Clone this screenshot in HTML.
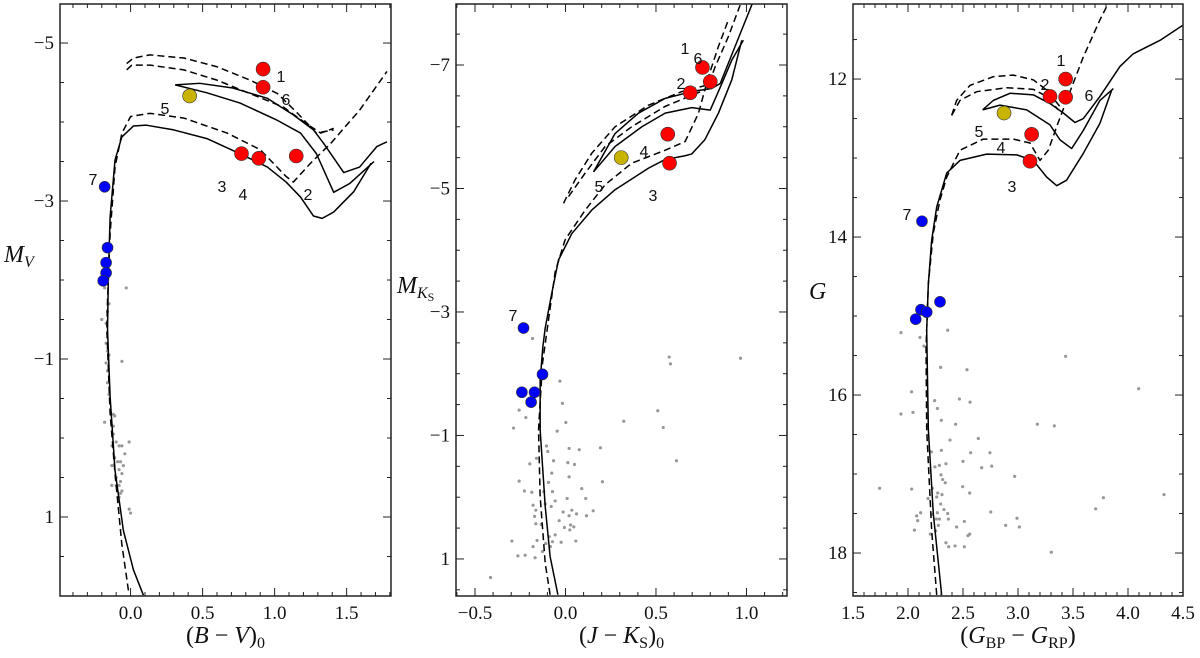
<!DOCTYPE html>
<html><head><meta charset="utf-8">
<style>
html,body{margin:0;padding:0;background:#fff;}
svg{display:block;}
.tick{font-family:"Liberation Serif",serif;font-size:19px;fill:#111;}
.ttl{font-family:"Liberation Serif",serif;font-size:24px;fill:#111;}
.ann{font-family:"Liberation Sans",sans-serif;font-size:16px;fill:#111;}
</style></head>
<body>
<svg id="fig" width="1200" height="658" viewBox="0 0 1200 658" xmlns="http://www.w3.org/2000/svg"></svg>
<script>
// ---------- Panel 1: (B-V)0 vs M_V ----------
const p1Red = [[0.92,-4.67],[0.92,-4.44],[0.77,-3.60],[0.89,-3.54],[1.15,-3.57]];
const p1Yellow = [[0.41,-4.33]];
const p1Blue = [[-0.18,-3.18],[-0.16,-2.41],[-0.17,-2.22],[-0.17,-2.09],[-0.19,-1.99]];
const p1Gray = [[-0.18,-1.9],[-0.15,-1.7],[-0.16,-1.6],[-0.2,-1.5],[-0.17,-1.45],[-0.03,-1.9],[-0.17,-1.2],[-0.16,-1.1],[-0.15,-1.05],[-0.06,-0.97],[-0.17,-0.95],[-0.16,-0.85],[-0.16,-0.7],[-0.15,-0.55],[-0.12,-0.3],[-0.11,-0.28],[-0.18,-0.2],[-0.12,-0.15],[-0.12,-0.05],[-0.1,0.05],[-0.13,0.1],[-0.08,0.1],[-0.06,0.1],[-0.01,0.05],[-0.04,0.2],[-0.11,0.25],[-0.09,0.3],[-0.07,0.3],[-0.05,0.35],[-0.13,0.35],[-0.08,0.4],[-0.06,0.45],[-0.1,0.5],[-0.07,0.55],[-0.13,0.6],[-0.1,0.6],[-0.08,0.6],[-0.07,0.7],[-0.08,0.75],[-0.06,0.67],[-0.01,0.9],[0.0,0.95]];
const p1SolidA = [[0.089,1.99],[0.02,1.67],[-0.05,1.17],[-0.108,0.41],[-0.142,-0.52],[-0.16,-1.37],[-0.154,-2.08],[-0.142,-2.80],[-0.108,-3.52],[-0.061,-3.81],[0.02,-3.95],[0.11,-3.96],[0.30,-3.90],[0.53,-3.79],[0.77,-3.59],[0.95,-3.43],[1.08,-3.24],[1.18,-3.05],[1.27,-2.81],[1.33,-2.78],[1.41,-2.86],[1.55,-3.12],[1.67,-3.48]];
const p1SolidB = [[0.31,-4.47],[0.53,-4.37],[0.76,-4.24],[1.01,-4.03],[1.18,-3.86],[1.29,-3.60],[1.41,-3.11],[1.52,-3.22],[1.69,-3.50]];
const p1SolidC = [[0.31,-4.47],[0.48,-4.49],[0.71,-4.43],[0.95,-4.30],[1.13,-4.09],[1.27,-3.90],[1.34,-3.73],[1.48,-3.36],[1.59,-3.43],[1.71,-3.69],[1.78,-3.75]];
const p1DashA = [[-0.015,1.93],[-0.061,1.34],[-0.108,0.45],[-0.142,-0.31],[-0.165,-1.37],[-0.16,-1.75],[-0.142,-2.59],[-0.108,-3.43],[-0.06,-3.86],[0.0,-4.07],[0.135,-4.11],[0.37,-4.05],[0.67,-3.86],[0.90,-3.65],[1.08,-3.31],[1.13,-3.24],[1.25,-3.48],[1.39,-3.73],[1.59,-4.15],[1.78,-4.64]];
const p1DashB = [[-0.027,-4.66],[0.008,-4.72],[0.135,-4.72],[0.37,-4.66],[0.60,-4.53],[0.83,-4.36],[1.06,-4.19],[1.22,-3.98],[1.32,-3.86],[1.41,-3.92]];
const p1DashC = [[-0.027,-4.74],[0.02,-4.81],[0.135,-4.85],[0.37,-4.81],[0.60,-4.70],[0.83,-4.53],[1.02,-4.36],[1.16,-4.11],[1.29,-3.86],[1.41,-3.90]];
const p1XTicks = [0.0,0.5,1.0,1.5];
const p1XTickLabels = ["0.0","0.5","1.0","1.5"];
const p1YTicks = [-5,-3,-1,1];
const p1YTickLabels = ["\u22125","\u22123","\u22121","1"];

// ---------- Panel 2: (J-Ks)0 vs M_Ks ----------
const p2Red = [[0.757,-6.96],[0.80,-6.73],[0.689,-6.55],[0.565,-5.88],[0.575,-5.41]];
const p2Yellow = [[0.308,-5.50]];
const p2Blue = [[-0.232,-2.74],[-0.127,-1.99],[-0.241,-1.70],[-0.171,-1.70],[-0.19,-1.54]];
const p2Gray = [[-0.182,-2.57],[0.573,-2.27],[0.580,-2.16],[0.967,-2.25],[-0.031,-1.88],[-0.017,-1.52],[0.510,-1.40],[-0.256,-1.41],[-0.219,-1.29],[0.002,-1.21],[0.322,-1.23],[-0.287,-1.12],[-0.046,-1.07],[0.540,-1.13],[-0.105,-0.83],[0.020,-0.79],[0.076,-0.77],[0.193,-0.80],[-0.098,-0.74],[-0.160,-0.63],[-0.197,-0.54],[-0.066,-0.59],[0.013,-0.56],[0.050,-0.53],[0.613,-0.59],[-0.076,-0.39],[0.020,-0.33],[-0.256,-0.26],[-0.094,-0.24],[0.204,-0.25],[-0.227,-0.10],[-0.186,-0.08],[-0.120,-0.09],[-0.072,-0.09],[0.090,-0.14],[0.009,0.02],[0.112,0.02],[-0.179,0.13],[-0.112,0.11],[-0.079,0.15],[-0.057,0.06],[-0.164,0.21],[-0.013,0.24],[0.035,0.21],[0.061,0.27],[0.153,0.22],[-0.171,0.31],[-0.035,0.38],[0.020,0.30],[0.116,0.30],[-0.164,0.43],[-0.134,0.44],[-0.006,0.49],[0.028,0.45],[0.046,0.48],[0.024,0.53],[-0.090,0.64],[-0.057,0.61],[-0.296,0.71],[-0.157,0.70],[-0.109,0.75],[-0.072,0.72],[-0.024,0.73],[0.057,0.71],[-0.179,0.80],[-0.083,0.80],[-0.127,0.88],[-0.263,0.95],[-0.223,0.94],[-0.168,0.98],[-0.414,1.30]];
const p2SolidA = [[-0.042,1.58],[-0.085,0.96],[-0.112,0.15],[-0.14,-1.09],[-0.14,-1.90],[-0.125,-2.44],[-0.112,-2.74],[-0.076,-3.30],[-0.039,-3.84],[0.035,-4.27],[0.145,-4.65],[0.274,-4.98],[0.459,-5.33],[0.551,-5.47],[0.661,-5.53],[0.698,-5.56],[0.77,-5.79],[0.845,-6.22],[0.919,-6.76],[0.974,-7.40]];
const p2SolidB = [[0.155,-5.27],[0.274,-5.68],[0.422,-6.00],[0.551,-6.22],[0.698,-6.31],[0.80,-6.27],[0.864,-6.70],[0.919,-7.08],[0.983,-7.40]];
const p2SolidC = [[0.155,-5.27],[0.274,-5.89],[0.403,-6.22],[0.551,-6.46],[0.698,-6.57],[0.808,-6.62],[0.855,-6.70],[0.937,-7.30],[1.033,-8.0]];
const p2DashA = [[-0.085,1.58],[-0.112,1.07],[-0.14,-0.01],[-0.149,-1.09],[-0.127,-2.17],[-0.057,-3.65],[-0.002,-4.17],[0.109,-4.65],[0.219,-5.06],[0.366,-5.41],[0.551,-5.62],[0.661,-5.76],[0.735,-6.22],[0.79,-6.81],[0.845,-7.30],[0.90,-7.73]];
const p2DashB = [[-0.011,-4.76],[0.053,-5.14],[0.145,-5.57],[0.274,-6.00],[0.459,-6.35],[0.643,-6.57],[0.79,-6.68],[0.827,-6.97],[0.90,-7.46],[0.965,-7.97]];
const p2DashC = [[0.017,-4.87],[0.109,-5.25],[0.219,-5.68],[0.366,-6.00],[0.551,-6.33],[0.698,-6.51],[0.79,-6.62],[0.827,-6.80]];
const p2XTicks = [-0.5,0.0,0.5,1.0];
const p2XTickLabels = ["\u22120.5","0.0","0.5","1.0"];
const p2YTicks = [-7,-5,-3,-1,1];
const p2YTickLabels = ["\u22127","\u22125","\u22123","\u22121","1"];

// ---------- Panel 3: (G_BP - G_RP) vs G ----------
const p3Red = [[3.433,12.0],[3.291,12.22],[3.433,12.23],[3.124,12.70],[3.109,13.04]];
const p3Yellow = [[2.873,12.43]];
const p3Blue = [[2.127,13.80],[2.291,14.82],[2.118,14.92],[2.170,14.95],[2.070,15.04]];
const p3Gray = [[1.936,15.21],[2.109,15.27],[2.145,15.38],[2.361,15.18],[3.433,15.51],[2.297,15.65],[2.536,15.68],[2.033,15.96],[4.097,15.92],[2.242,16.07],[2.467,16.05],[2.564,16.09],[2.267,16.17],[1.936,16.24],[2.045,16.22],[2.303,16.32],[2.433,16.37],[3.176,16.37],[3.330,16.39],[2.382,16.57],[2.639,16.55],[2.212,16.72],[2.303,16.70],[2.570,16.73],[2.745,16.73],[2.50,16.84],[2.245,16.91],[2.285,16.89],[2.345,16.87],[2.30,17.01],[2.315,17.07],[2.339,17.11],[2.761,16.90],[2.670,16.92],[2.970,17.03],[1.742,17.18],[2.033,17.19],[2.221,17.18],[2.497,17.16],[2.27,17.24],[2.309,17.26],[2.561,17.24],[2.261,17.29],[2.182,17.31],[2.297,17.38],[2.327,17.45],[2.361,17.50],[2.115,17.49],[2.079,17.53],[2.267,17.49],[2.221,17.51],[2.258,17.57],[2.285,17.57],[2.367,17.57],[2.088,17.59],[2.512,17.60],[2.276,17.65],[2.442,17.67],[2.058,17.71],[2.203,17.76],[2.252,17.72],[2.545,17.78],[2.561,17.76],[2.888,17.65],[2.991,17.56],[3.012,17.67],[2.752,17.48],[2.345,17.87],[2.370,17.92],[2.427,17.91],[2.512,17.92],[3.706,17.44],[3.776,17.30],[4.327,17.26],[3.303,17.99]];
const p3SolidA = [[2.306,18.53],[2.230,17.50],[2.185,16.44],[2.17,15.18],[2.185,14.59],[2.215,14.04],[2.261,13.62],[2.352,13.19],[2.473,13.03],[2.715,12.95],[2.988,12.96],[3.139,13.03],[3.26,13.24],[3.352,13.35],[3.442,13.28],[3.594,12.94],[3.745,12.56],[3.852,12.14]];
const p3SolidB = [[2.679,12.39],[2.836,12.33],[3.079,12.39],[3.291,12.58],[3.382,12.77],[3.488,12.88],[3.594,12.65],[3.745,12.27],[3.867,12.12]];
const p3SolidC = [[2.679,12.39],[2.776,12.27],[2.927,12.18],[3.139,12.20],[3.291,12.31],[3.412,12.43],[3.518,12.55],[3.594,12.50],[3.745,12.22],[3.927,11.84],[4.048,11.68],[4.291,11.51],[4.497,11.32]];
const p3DashA = [[2.261,18.53],[2.215,17.71],[2.17,16.44],[2.164,15.39],[2.185,14.59],[2.23,13.95],[2.291,13.53],[2.352,13.24],[2.473,12.90],[2.685,12.76],[2.958,12.76],[3.109,12.81],[3.20,13.03],[3.276,12.90],[3.352,12.60],[3.442,12.27],[3.594,11.72],[3.745,11.25],[3.821,11.04]];
const p3DashB = [[2.397,12.46],[2.473,12.27],[2.624,12.16],[2.897,12.11],[3.139,12.13],[3.261,12.22],[3.367,12.39]];
const p3DashC = [[2.397,12.46],[2.442,12.27],[2.564,12.08],[2.776,11.97],[2.958,11.95],[3.139,12.01],[3.261,12.14],[3.382,12.35]];
const p3XTicks = [1.5,2.0,2.5,3.0,3.5,4.0,4.5];
const p3XTickLabels = ["1.5","2.0","2.5","3.0","3.5","4.0","4.5"];
const p3YTicks = [12,14,16,18];
const p3YTickLabels = ["12","14","16","18"];

const NS = "http://www.w3.org/2000/svg";
const fig = document.getElementById('fig');
function mk(tag, attrs, parent){
  const e = document.createElementNS(NS, tag);
  for (const k in attrs) e.setAttribute(k, attrs[k]);
  (parent||fig).appendChild(e);
  return e;
}

function panel(cfg){
  const g = mk('g', {});
  
  
  const sx = v => cfg.px0 + (v - cfg.x0) / (cfg.x1 - cfg.x0) * (cfg.px1 - cfg.px0);
  const sy = v => cfg.py0 + (v - cfg.y0) / (cfg.y1 - cfg.y0) * (cfg.py1 - cfg.py0);
  const clipId = cfg.name + '-clip';
  const cp = mk('clipPath', {id: clipId}, g);
  mk('rect', {x: cfg.px0, y: cfg.py0, width: cfg.px1 - cfg.px0, height: cfg.py1 - cfg.py0}, cp);
  const plot = mk('g', {'clip-path': 'url(#' + clipId + ')'}, g);

  cfg.gray.forEach(d => {
    const c = mk('circle', {cx: sx(d[0]), cy: sy(d[1]), r: 1.6, fill: '#999'}, plot);
    
    
  });
  const line = (arr, dashed, nm) => {
    const p = mk('polyline', {points: arr.map(d => sx(d[0]) + ',' + sy(d[1])).join(' '), fill: 'none', stroke: '#000', 'stroke-width': 1.5, 'stroke-dasharray': dashed ? '7,4' : 'none', 'stroke-linejoin': 'round'}, plot);
    
    
  };
  line(cfg.solidA, false, 'isochrone-solid-1');
  line(cfg.solidB, false, 'isochrone-solid-2');
  line(cfg.solidC, false, 'isochrone-solid-3');
  line(cfg.dashA, true, 'isochrone-dashed-1');
  line(cfg.dashB, true, 'isochrone-dashed-2');
  line(cfg.dashC, true, 'isochrone-dashed-3');
  const pts = (arr, col, r, nm) => arr.forEach(d => {
    const c = mk('circle', {cx: sx(d[0]), cy: sy(d[1]), r: r, fill: col, stroke: '#333', 'stroke-width': 0.6}, plot);
    
    
  });
  pts(cfg.blue, '#0000ff', 5.5, 'blue-star');
  pts(cfg.red, '#ff0000', 7, 'red-supergiant');
  pts(cfg.yellow, '#c8b400', 7, 'yellow-supergiant');

  cfg.ann.forEach(a => {
    const t = mk('text', {x: a[1], y: a[2], class: 'ann', 'text-anchor': 'middle', 'dominant-baseline': 'middle'}, g);
    t.textContent = a[0];
    
    
  });

  const fr = mk('rect', {x: cfg.px0, y: cfg.py0, width: cfg.px1 - cfg.px0, height: cfg.py1 - cfg.py0, fill: 'none', stroke: '#222', 'stroke-width': 1.5}, g);
  
  

  const tk = mk('g', {stroke: '#222', 'stroke-width': 1}, g);
  const xmin = Math.ceil(cfg.x0 / cfg.xMinor - 1e-6);
  for (let i = xmin; i * cfg.xMinor <= cfg.x1 + 1e-6; i++) {
    const v = i * cfg.xMinor;
    const major = cfg.xTicks.some(t => Math.abs(t - v) < 1e-6);
    const L = major ? 8 : 4, X = sx(v);
    mk('line', {x1: X, x2: X, y1: cfg.py1, y2: cfg.py1 - L}, tk);
    mk('line', {x1: X, x2: X, y1: cfg.py0, y2: cfg.py0 + L}, tk);
  }
  const ylo = Math.min(cfg.y0, cfg.y1), yhi = Math.max(cfg.y0, cfg.y1);
  for (let i = Math.ceil(ylo / cfg.yMinor - 1e-6); i * cfg.yMinor <= yhi + 1e-6; i++) {
    const v = i * cfg.yMinor;
    const major = cfg.yTicks.some(t => Math.abs(t - v) < 1e-6);
    const L = major ? 8 : 4, Y = sy(v);
    mk('line', {x1: cfg.px0, x2: cfg.px0 + L, y1: Y, y2: Y}, tk);
    mk('line', {x1: cfg.px1, x2: cfg.px1 - L, y1: Y, y2: Y}, tk);
  }
  cfg.xTicks.forEach((v, i) => {
    const t = mk('text', {x: sx(v), y: cfg.py1 + 23, class: 'tick', 'text-anchor': 'middle'}, g);
    t.textContent = cfg.xLabels[i];
    
    
  });
  cfg.yTicks.forEach((v, i) => {
    const t = mk('text', {x: cfg.px0 - 6, y: sy(v) + 6, class: 'tick', 'text-anchor': 'end'}, g);
    t.textContent = cfg.yLabels[i];
    
    
  });
  const xt = mk('text', {x: (cfg.px0 + cfg.px1) / 2, y: 643, class: 'ttl', 'text-anchor': 'middle'}, g);
  xt.innerHTML = cfg.xTitle;
  
  
  const yt = mk('text', {x: cfg.ytx, y: cfg.yty, class: 'ttl', 'text-anchor': 'start'}, g);
  yt.innerHTML = cfg.yTitle;
  
  
}

panel({name: 'panel-bv', px0: 60, px1: 391, py0: 4, py1: 596, x0: -0.49, x1: 1.808, y0: -5.494, y1: 2.0,
  xMinor: 0.1, yMinor: 0.5, xTicks: p1XTicks, xLabels: p1XTickLabels, yTicks: p1YTicks, yLabels: p1YTickLabels,
  gray: p1Gray, red: p1Red, yellow: p1Yellow, blue: p1Blue,
  solidA: p1SolidA, solidB: p1SolidB, solidC: p1SolidC, dashA: p1DashA, dashB: p1DashB, dashC: p1DashC,
  ann: [['1',281,78],['6',286,101],['5',165,110],['3',222,188],['4',243,196],['2',308,196],['7',93,181]],
  xTitle: '(<tspan font-style="italic">B</tspan> \u2212 <tspan font-style="italic">V</tspan>)<tspan font-size="16" dy="5">0</tspan>',
  yTitle: '<tspan font-style="italic">M</tspan><tspan font-size="16" dy="5" font-style="italic">V</tspan>', ytx: 4, yty: 262});

panel({name: 'panel-jk', px0: 456, px1: 787, py0: 4, py1: 596, x0: -0.605, x1: 1.224, y0: -7.988, y1: 1.6,
  xMinor: 0.1, yMinor: 0.5, xTicks: p2XTicks, xLabels: p2XTickLabels, yTicks: p2YTicks, yLabels: p2YTickLabels,
  gray: p2Gray, red: p2Red, yellow: p2Yellow, blue: p2Blue,
  solidA: p2SolidA, solidB: p2SolidB, solidC: p2SolidC, dashA: p2DashA, dashB: p2DashB, dashC: p2DashC,
  ann: [['1',685,50],['6',698,60],['2',681,85],['4',644,153],['5',599,188],['3',653,197],['7',513,317]],
  xTitle: '(<tspan font-style="italic">J</tspan> \u2212 <tspan font-style="italic">K</tspan><tspan font-size="16" dy="5">S</tspan><tspan dy="-5">)</tspan><tspan font-size="16" dy="5">0</tspan>',
  yTitle: '<tspan font-style="italic">M</tspan><tspan font-size="16" dy="5" font-style="italic">K</tspan><tspan font-size="12" dy="3">S</tspan>', ytx: 397, yty: 293});

panel({name: 'panel-gaia', px0: 853, px1: 1183, py0: 4, py1: 596, x0: 1.5, x1: 4.5, y0: 11.05, y1: 18.544,
  xMinor: 0.1, yMinor: 0.5, xTicks: p3XTicks, xLabels: p3XTickLabels, yTicks: p3YTicks, yLabels: p3YTickLabels,
  gray: p3Gray, red: p3Red, yellow: p3Yellow, blue: p3Blue,
  solidA: p3SolidA, solidB: p3SolidB, solidC: p3SolidC, dashA: p3DashA, dashB: p3DashB, dashC: p3DashC,
  ann: [['1',1061,62],['2',1045,86],['6',1089,97],['5',979,133],['4',1001,149],['3',1012,188],['7',907,216]],
  xTitle: '(<tspan font-style="italic">G</tspan><tspan font-size="16" dy="5">BP</tspan><tspan dy="-5"> \u2212 </tspan><tspan font-style="italic">G</tspan><tspan font-size="16" dy="5">RP</tspan><tspan dy="-5">)</tspan>',
  yTitle: '<tspan font-style="italic">G</tspan>', ytx: 809, yty: 299});
</script>
</body></html>
